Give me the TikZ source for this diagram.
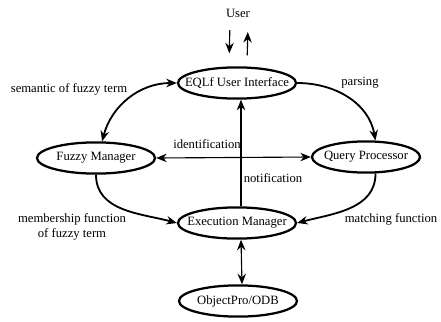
\documentclass[tikz,border=0pt]{standalone}
\usepackage{fontspec}
\setmainfont{Liberation Serif}
\usetikzlibrary{shapes.geometric,arrows.meta}
\newcommand{\mlabel}[1]{\makebox[0pt]{#1}}

\begin{document}
\begin{tikzpicture}[x=0.025cm, y=-0.025cm, font=\small,
		>={Stealth[length=7.5pt,width=6pt]},
		module/.style={draw, ellipse, line width=1.6pt, minimum width=2.95cm, minimum height=0.78cm, inner sep=0pt},
		flow/.style={line width=1.3pt},
		link/.style={line width=0.8pt}]
			\useasboundingbox (0, 0) rectangle (441, 322);

			\draw (238, 13) 	node 				(user) 		{User};
			\draw (237, 83) 	node[module] 			(eql) 		{\mlabel{EQLf User Interface}};
			\draw (96, 158) 	node[module] 			(fuzzy) 	{\mlabel{Fuzzy Manager}};
			\draw (366, 157) 	node[module, minimum width=2.7cm] 	(query) 	{\mlabel{Query Processor}};
			\draw (237, 223) 	node[module] 			(exec) 		{\mlabel{Execution Manager}};
			\draw (238, 301) 	node[module] 			(odb) 		{\mlabel{ObjectPro/ODB}};

			\draw (69, 89) 		node 				(semlabel) 	{semantic of fuzzy term};
			\draw (360, 83) 	node 				(parselabel) 	{parsing};
			\draw (207, 144) 	node 				(idlabel) 	{identification};
			\draw (273, 178) 	node 				(notelabel) 	{notification};
			\draw (391, 219) 	node 				(matchlabel) 	{matching function};
			\draw (72, 227) 	node[align=center] 		(memblabel) 	{membership function\\of fuzzy term};

			\draw[flow, <->] (eql.west) to[out=180, in=75] (fuzzy.70);
			\draw[flow, ->] (eql.east) to[out=0, in=100] (query.60);
			\draw[flow, ->] (query.-60) to[out=-90, in=15] (exec.east);
			\draw[flow, ->] (fuzzy.south) to[out=-90, in=165] (exec.west);

			\draw[link, <->] (fuzzy.east) -- (query.west);
			\draw[link, ->] ([xshift=0.1cm]exec.north) -- ([xshift=0.1cm]eql.south);
			\draw[link, <->] ([xshift=0.1cm]exec.south) -- ([xshift=0.1cm]odb.north);
			\draw[link, ->, shorten <=5.7pt, shorten >=9.2pt] ([xshift=-0.2cm]user.south) -- ([xshift=-0.2cm]eql.north);
			\draw[link, ->, shorten <=7.8pt, shorten >=7pt] ([xshift=0.25cm]eql.north) -- ([xshift=0.25cm]user.south);
		\end{tikzpicture}
\end{document}
